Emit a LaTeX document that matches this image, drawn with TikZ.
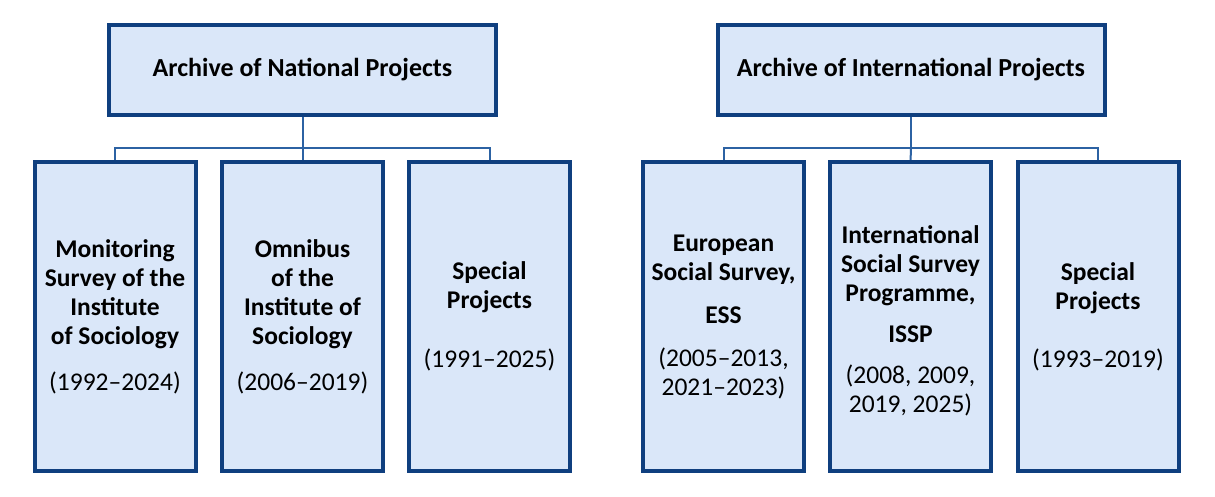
\documentclass[tikz,border=0pt]{standalone}
\usepackage{fontspec}
\setmainfont{Carlito}
\definecolor{bordblue}{HTML}{0F3F7F}
\definecolor{fillblue}{HTML}{DAE7F9}
\definecolor{linkblue}{HTML}{2C62A3}
\begin{document}
\begin{tikzpicture}[x=1pt,y=-1pt,
  topbox/.style={draw=bordblue,fill=fillblue,line width=4pt,minimum width=387pt,minimum height=90pt,inner sep=0pt,
    font=\fontsize{26}{30}\selectfont\bfseries},
  subbox/.style={draw=bordblue,fill=fillblue,line width=4pt,minimum width=161pt,minimum height=309pt,inner sep=0pt,
    align=center,font=\fontsize{25.5}{29}\selectfont\bfseries},
  link/.style={draw=linkblue,line width=2pt}]
\useasboundingbox (0,0) rectangle (1215,497);
\fill[white] (0,0) rectangle (1215,497);
% coordinates of junctions
\coordinate (j1) at (302.5,148);
\coordinate (j2) at (911,148);
% top boxes
\node[topbox] (t1) at (302.5,70) {\raisebox{3pt}{Archive of National Projects}};
\node[topbox] (t2) at (911,70) {\raisebox{3pt}{Archive of International Projects}};
% connectors (drawn before sub boxes)
\draw[link] (t1.south) -- (j1);
\draw[link] (115,162) |- (j1) -| (489.5,162);
\draw[link] (j1) -- (302.5,162);
\draw[link] (t2.south) -- (j2);
\draw[link] (723.5,162) |- (j2) -| (1098,162);
\draw[link] (j2) -- (910.5,162);
% sub boxes
\node[subbox] (b1) at (115,316.5) {Monitoring\\Survey of the\\Institute\\of Sociology\\[17pt]\mdseries(1992–2024)};
\node[subbox] (b2) at (302.5,316.5) {Omnibus\\of the\\Institute of\\Sociology\\[17pt]\mdseries(2006–2019)};
\node[subbox] (b3) at (489.5,316.5) {Special\\Projects\\[30pt]\mdseries(1991–2025)};
\node[subbox] (b4) at (723.5,316.5) {European\\Social Survey,\\[14pt]ESS\\[14pt]\mdseries(2005–2013,\\\mdseries2021–2023)};
\node[subbox] (b5) at (910.5,316.5) {\rule{0pt}{27pt}International\\Social Survey\\Programme,\\[12pt]ISSP\\[12pt]\mdseries(2008, 2009,\\\mdseries2019, 2025)};
\node[subbox] (b6) at (1098,316.5) {Special\\Projects\\[29pt]\mdseries(1993–2019)};
\end{tikzpicture}
\end{document}
